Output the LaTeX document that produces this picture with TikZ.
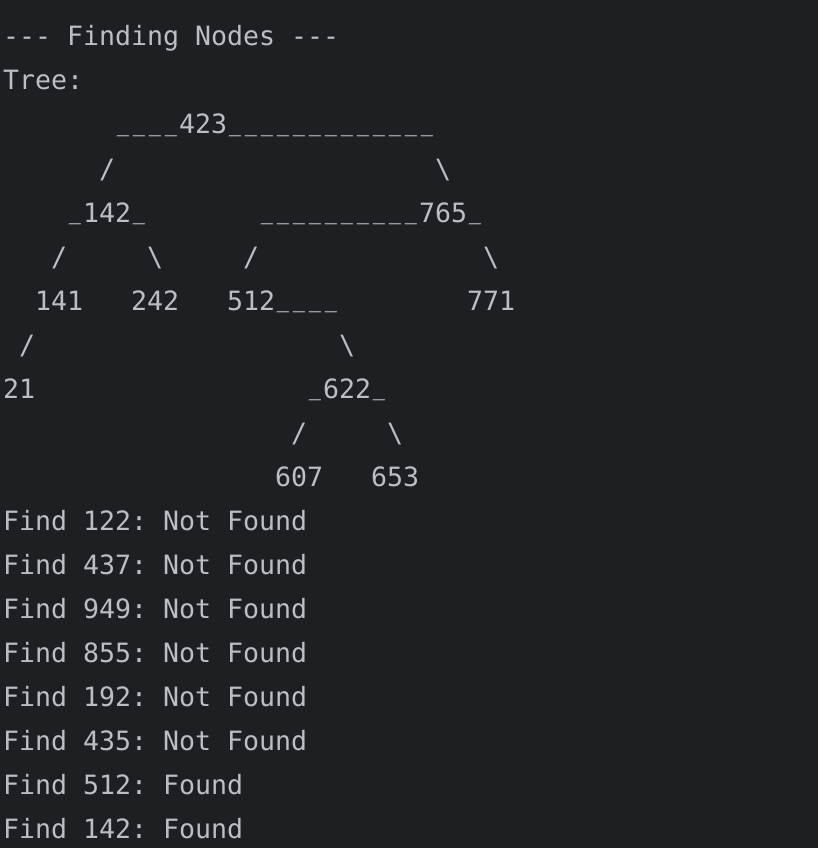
\documentclass[tikz,border=0pt]{standalone}
\usepackage{graphicx}
\usepackage{fontspec}
\setmonofont{DejaVu Sans Mono}
\definecolor{termbg}{HTML}{1E1F22}
\definecolor{termfg}{HTML}{BCBEC4}
\newcommand\slashch{/}
\newcommand\bsch{\textbackslash}
\newcommand\us{\makebox[16pt][c]{\raisebox{3.5pt}{\scalebox{0.76}[1]{\_}}}}
\begin{document}
\begin{tikzpicture}[x=1pt,y=1pt,
  termtext/.style={anchor=base west,inner sep=0pt,outer sep=0pt,text=termfg,
    font=\ttfamily\fontsize{26.58}{44}\selectfont}]
\fill[termbg] (0,0) rectangle (818,-848);
\useasboundingbox (0,0) rectangle (818,-848);
\foreach \l/\c/\t/\n in {
  0/0/{--- Finding Nodes ---}/hdr,
  1/0/{Tree:}/tree,
  2/7/{\us\us\us\us423\us\us\us\us\us\us\us\us\us\us\us\us\us}/n423,
  3/6/{\slashch}/e423l, 3/27/{\bsch}/e423r,
  4/4/{\us142\us}/n142, 4/16/{\us\us\us\us\us\us\us\us\us\us765\us}/n765,
  5/3/{\slashch}/e142l, 5/9/{\bsch}/e142r, 5/15/{\slashch}/e765l, 5/30/{\bsch}/e765r,
  6/2/{141}/n141, 6/8/{242}/n242, 6/14/{512\us\us\us\us}/n512, 6/29/{771}/n771,
  7/1/{\slashch}/e141l, 7/21/{\bsch}/e512r,
  8/0/{21}/n21, 8/19/{\us622\us}/n622,
  9/18/{\slashch}/e622l, 9/24/{\bsch}/e622r,
  10/17/{607}/n607, 10/23/{653}/n653,
  11/0/{Find 122: Not Found}/f1,
  12/0/{Find 437: Not Found}/f2,
  13/0/{Find 949: Not Found}/f3,
  14/0/{Find 855: Not Found}/f4,
  15/0/{Find 192: Not Found}/f5,
  16/0/{Find 435: Not Found}/f6,
  17/0/{Find 512: Found}/f7,
  18/0/{Find 142: Found}/f8}
  \node[termtext] (\n) at ({3+16*\c},{-46-44*\l}) {\t};
\end{tikzpicture}
\end{document}
